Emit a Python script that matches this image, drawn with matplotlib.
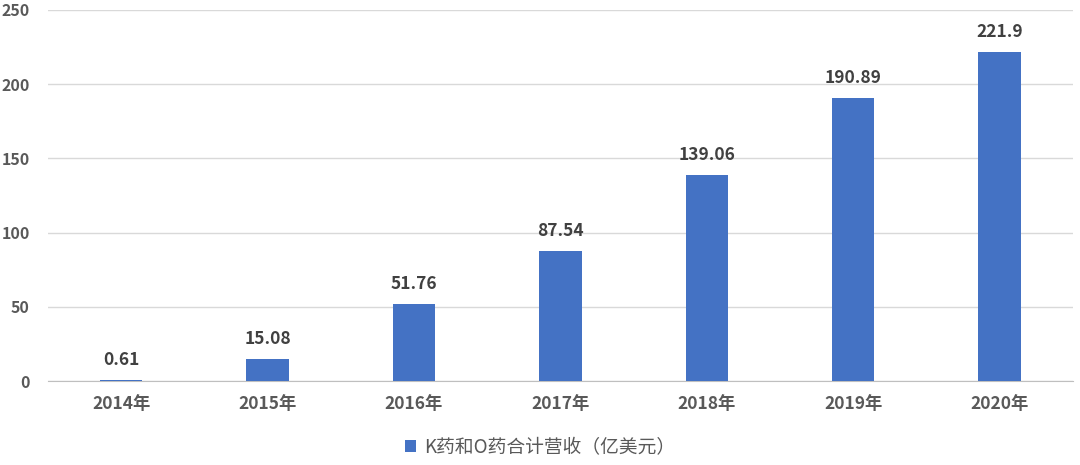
import matplotlib
matplotlib.use('Agg')
import matplotlib.pyplot as plt
from matplotlib.patches import Patch

plt.rcParams['font.family'] = ['Noto Sans CJK SC', 'DejaVu Sans']

# 数据
years = ['2014年', '2015年', '2016年', '2017年', '2018年', '2019年', '2020年']
revenue = [0.61, 15.08, 51.76, 87.54, 139.06, 190.89, 221.9]
labels = ['0.61', '15.08', '51.76', '87.54', '139.06', '190.89', '221.9']
series_name = 'K药和O药合计营收（亿美元）'

bar_color = '#4472C4'
text_color = '#595959'

fig = plt.figure(figsize=(10.8, 4.65), dpi=100)
ax = fig.add_axes([0.0444, 0.1806, 0.949, 0.798])

x = list(range(len(years)))
bars = ax.bar(x, revenue, width=0.29, color=bar_color, zorder=3)

# 数据标签
for xi, v, lab in zip(x, revenue, labels):
    ax.annotate(lab, (xi, v), xytext=(0, 8), textcoords='offset points',
                ha='center', va='bottom', fontsize=12.5, fontweight='bold',
                color='#404040')

ax.set_xlim(-0.5, len(years) - 0.5)
ax.set_ylim(0, 250)
ax.set_yticks(range(0, 251, 50))
ax.set_xticks(x)
ax.set_xticklabels(years)
ax.grid(axis='y', color='#D9D9D9', linewidth=1, zorder=0)
for side in ['top', 'right', 'left']:
    ax.spines[side].set_visible(False)
ax.spines['bottom'].set_color('#BFBFBF')
ax.tick_params(axis='both', length=0, labelsize=11.5, labelcolor=text_color)
ax.tick_params(axis='x', pad=10, labelsize=12.5)
ax.tick_params(axis='y', pad=13)
for t in ax.get_xticklabels() + ax.get_yticklabels():
    t.set_fontweight('bold')

handle = Patch(facecolor=bar_color, edgecolor='none')
fig.legend([handle], [series_name], loc='center', bbox_to_anchor=(0.5, 0.038),
           frameon=False, fontsize=13.5, handlelength=0.6, handleheight=0.6,
           handletextpad=0.4, labelcolor=text_color)

fig.savefig('out.png', dpi=100)
